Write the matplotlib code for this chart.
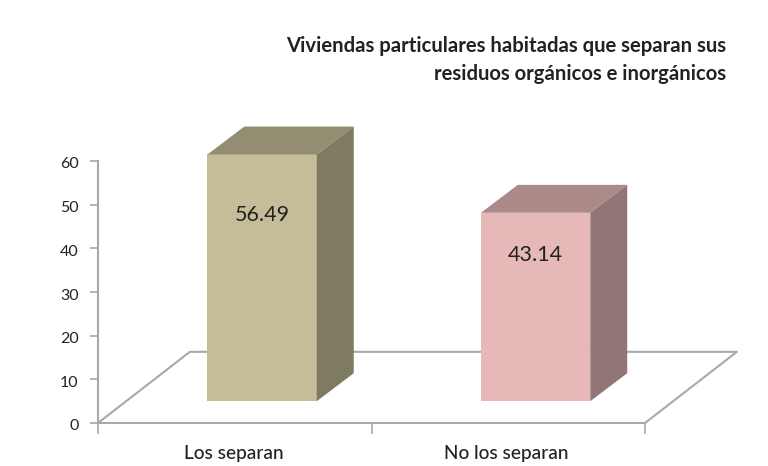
import matplotlib
matplotlib.use("Agg")
import matplotlib.pyplot as plt
from matplotlib.patches import Polygon
from matplotlib.transforms import ScaledTranslation

categories = ["Los separan", "No los separan"]
values = [56.49, 43.14]
yticks = [0, 10, 20, 30, 40, 50, 60]
title = "Viviendas particulares habitadas que separan sus\nresiduos orgánicos e inorgánicos"

front_colors = ["#c4bd97", "#e6b9b8"]
top_colors = ["#938e71", "#ac8a8a"]
side_colors = ["#7f7b60", "#927575"]

W, H = 768, 466
plt.rcParams["font.family"] = ["Lato", "DejaVu Sans"]

fig = plt.figure(figsize=(W / 100, H / 100), dpi=100)
ax = fig.add_axes([98 / W, 1 - 423 / H, (645 - 98) / W, (423 - 161) / H])
ax.set_xlim(0, 2)
ax.set_ylim(0, 60)

# 3D offsets in data units
floor_dx, floor_dy = 0.336, 16.3
bar_off_x, bar_off_y = 0.1, 5.0
bar_w = 0.4
depth_x, depth_y = 0.135, 6.4
grey = "#a9a9a9"

# where the labels sit in the original, not centred on anything obvious
label_y = [47.6, 38.5]
cat_x = [0.495, 1.492]

# floor of the fake 3D box
ax.plot([0, floor_dx, 2 + floor_dx, 2], [0, floor_dy, floor_dy, 0],
        color=grey, lw=1.5, clip_on=False, zorder=1)

for i, val in enumerate(values):
    x0 = i + 0.5 + bar_off_x - bar_w / 2
    x1 = x0 + bar_w
    y0 = bar_off_y
    y1 = y0 + val
    ax.bar(x0, val, width=bar_w, bottom=y0, align="edge", color=front_colors[i],
           zorder=3, clip_on=False)
    top = [(x0, y1), (x1, y1), (x1 + depth_x, y1 + depth_y), (x0 + depth_x, y1 + depth_y)]
    side = [(x1, y0), (x1 + depth_x, y0 + depth_y), (x1 + depth_x, y1 + depth_y), (x1, y1)]
    ax.add_patch(Polygon(top, closed=True, fc=top_colors[i], ec="none", zorder=3, clip_on=False))
    ax.add_patch(Polygon(side, closed=True, fc=side_colors[i], ec="none", zorder=3, clip_on=False))
    ax.text((x0 + x1) / 2, label_y[i], f"{val:.2f}", ha="center", va="center",
            fontsize=15.5, color="#222222", zorder=4)

for s in ["top", "right"]:
    ax.spines[s].set_visible(False)
for s in ["left", "bottom"]:
    ax.spines[s].set_color(grey)
    ax.spines[s].set_linewidth(1.5)

ax.set_yticks(yticks)
ax.set_xticks([0, 1, 2])
ax.set_xticklabels([])
ax.tick_params(axis="y", length=6, width=1.2, color=grey, labelsize=11.5,
               labelcolor="#222222", pad=8)
ax.tick_params(axis="x", length=8, width=1.2, color=grey)

# tick labels sit a little below their ticks in the original
for lab in ax.get_yticklabels():
    lab.set_transform(lab.get_transform() + ScaledTranslation(0, -2 / 100, fig.dpi_scale_trans))

for i, cat in enumerate(categories):
    ax.text(cat_x[i], -6.9, cat, ha="center", va="center", fontsize=13.7,
            fontweight="medium", color="#222222", clip_on=False)

fig.text(726 / W, 1 - 36 / H, title, ha="right", va="top", fontsize=14.6,
         fontweight="bold", color="#222222", linespacing=1.5)

fig.savefig("out.png", dpi=100)
